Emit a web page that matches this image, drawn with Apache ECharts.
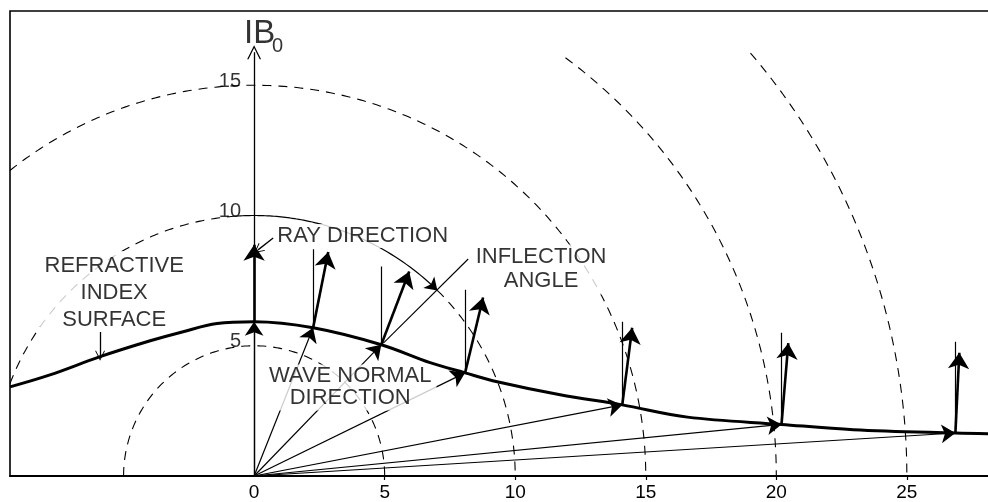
<!DOCTYPE html>
<html><head><meta charset="utf-8">
<script src="https://cdn.jsdelivr.net/npm/echarts@6/dist/echarts.min.js"></script>
<style>html,body{margin:0;padding:0;background:#fff}#c{width:988px;height:502px}</style>
</head><body><div id="c"></div>
<script>
// ---- data ----
const xTickLabels = [0, 5, 10, 15, 20, 25];
const xTickMarks = [5, 10, 15, 20, 25];
const yTickLabels = [5, 10, 15];

// refractive index surface
const surfaceX = [-9.35, -7.82, -5.9, -3.98, -2.72, -1.42, 0, 2.26, 4.87, 6.74, 8.08, 9.31, 11.72, 14.1, 16.6, 20.2, 22.95, 26.86, 28.3];
const surfaceY = [3.42, 3.88, 4.58, 5.19, 5.54, 5.85, 5.92, 5.69, 5.04, 4.35, 3.96, 3.62, 3.12, 2.73, 2.26, 1.98, 1.78, 1.65, 1.62];

// points on the surface reached by the wave normals
const pointX = [0, 2.26, 4.87, 8.08, 14.1, 20.2, 26.86];
const pointY = [5.92, 5.69, 5.04, 3.96, 2.73, 1.98, 1.65];
// ray direction arrow tips
const rayTipX = [0, 2.84, 5.94, 8.77, 14.48, 20.46, 27.01];
const rayTipY = [8.88, 8.6, 7.85, 6.85, 5.69, 5.1, 4.73];
// tops of the thin vertical (B0) reference lines
const refTopY = [null, 8.7, 8.04, 7.15, 5.92, 5.5, 5.15];

// dashed reference circles about the origin (radius, start angle, end angle in degrees)
const circleRadius = [5, 10, 10, 15, 20, 25];
const circleStart = [180, 159.2, 45.4, 128.6, 53.4, 40.5];
const circleEnd = [0, 94, 0, 0, 0, 0];
// solid leader arc on the radius-10 circle
const leaderRadius = 10, leaderStart = 94, leaderEnd = 45.4;

const yAxisTop = 16.27;

// annotations
const annText = ['RAY DIRECTION', 'INFLECTION\nANGLE', 'REFRACTIVE\nINDEX\nSURFACE', 'WAVE NORMAL\nDIRECTION'];
const annX = [4.16, 10.99, -5.36, 3.68];
const annY = [9.21, 7.93, 7.04, 3.40];
const annLineH = [22, 24, 27, 22];

// small leader arrows [x0,y0,x1,y1]
const leaderArrows = [[0.73, 9.14, 0.15, 8.68], [-5.9, 5.53, -5.9, 4.62]];
const inflectionLeader = [8.2, 8.33, 4.95, 5.1];

// ---- build ----
const deg = Math.PI / 180;
function arc(r, a0, a1) {
  const n = Math.max(2, Math.ceil(Math.abs(a1 - a0) / 0.5));
  const pts = [];
  for (let i = 0; i <= n; i++) {
    const a = (a0 + (a1 - a0) * i / n) * deg;
    pts.push([r * Math.cos(a), r * Math.sin(a)]);
  }
  return pts;
}
const FONT = 'Liberation Sans';
const black = '#000';
const series = [];

circleRadius.forEach((r, i) => {
  series.push({
    type: 'line', z: 2, silent: true, symbol: 'none',
    data: arc(r, circleStart[i], circleEnd[i]),
    lineStyle: { color: black, width: 1.1, type: [9, 7] }
  });
});
// solid leader arc + arrow
series.push({
  type: 'line', z: 2, silent: true, symbol: 'none',
  data: arc(leaderRadius, leaderStart, leaderEnd),
  lineStyle: { color: black, width: 1.2 }
});
const la = arc(leaderRadius, leaderEnd + 2, leaderEnd);
series.push({
  type: 'lines', coordinateSystem: 'cartesian2d', z: 2, silent: true,
  symbol: ['none', 'arrow'], symbolSize: [7, 12],
  lineStyle: { color: black, width: 1.2, opacity: 1 },
  data: [{ coords: [la[0], la[la.length - 1]] }]
});

// wave normal lines from origin
series.push({
  type: 'lines', coordinateSystem: 'cartesian2d', z: 2, silent: true,
  symbol: ['none', 'arrow'], symbolSize: [7, 14],
  lineStyle: { color: black, width: 1.2, opacity: 1 },
  data: pointX.map((x, i) => ({ coords: [[0, 0], [x, pointY[i]]] }))
});

// annotations (white backed text)
series.push({
  type: 'scatter', z: 3, silent: true, symbolSize: 0,
  data: annText.map((t, i) => ({
    name: t, value: [annX[i], annY[i]],
    label: { lineHeight: annLineH[i] }
  })),
  label: {
    show: true, position: 'inside', formatter: '{b}', align: 'center', verticalAlign: 'middle',
    fontFamily: FONT, fontSize: 22, color: '#000', backgroundColor: '#fff', padding: [1, 5]
  }
});

// y axis tick labels, drawn beside the vertical axis line
series.push({
  type: 'scatter', z: 6, silent: true, symbolSize: 0,
  data: yTickLabels.map(v => ({ name: String(v), value: [0, v] })),
  label: {
    show: true, position: 'inside', formatter: '{b}', align: 'right', verticalAlign: 'bottom',
    offset: [-13, 6], fontFamily: FONT, fontSize: 20, color: '#000'
  }
});

// y axis line with open arrow
series.push({
  type: 'lines', coordinateSystem: 'cartesian2d', z: 4, silent: true,
  symbol: ['none', 'path://M0,20 L10,0 L20,20 L18,20 L10,4 L2,20 Z'], symbolSize: [10, 14],
  lineStyle: { color: black, width: 1.3, opacity: 1 },
  data: [{ coords: [[0, 0], [0, yAxisTop]] }]
});
// small leader arrows
series.push({
  type: 'lines', coordinateSystem: 'cartesian2d', z: 4, silent: true,
  symbol: ['none', 'path://M0,20 L10,0 L20,20 L18,20 L10,4 L2,20 Z'], symbolSize: [9, 10],
  lineStyle: { color: black, width: 1.3, opacity: 1 },
  data: leaderArrows.map(a => ({ coords: [[a[0], a[1]], [a[2], a[3]]] }))
});
series.push({
  type: 'lines', coordinateSystem: 'cartesian2d', z: 4, silent: true, symbol: 'none',
  lineStyle: { color: black, width: 1.1, opacity: 1 },
  data: [{ coords: [[inflectionLeader[0], inflectionLeader[1]], [inflectionLeader[2], inflectionLeader[3]]] }]
});

// refractive index surface
series.push({
  type: 'line', z: 5, silent: true, symbol: 'none', smooth: 0.35,
  data: surfaceX.map((x, i) => [x, surfaceY[i]]),
  lineStyle: { color: black, width: 3 }
});
// thin vertical reference lines
series.push({
  type: 'lines', coordinateSystem: 'cartesian2d', z: 5, silent: true, symbol: 'none',
  lineStyle: { color: black, width: 1.2, opacity: 1 },
  data: pointX.map((x, i) => refTopY[i] == null ? null : ({ coords: [[x, pointY[i]], [x, refTopY[i]]] })).filter(Boolean)
});
// ray direction arrows
series.push({
  type: 'lines', coordinateSystem: 'cartesian2d', z: 5, silent: true,
  symbol: ['none', 'arrow'], symbolSize: [9, 16],
  lineStyle: { color: black, width: 2.6, opacity: 1 },
  data: pointX.map((x, i) => ({ coords: [[x, pointY[i]], [rayTipX[i], rayTipY[i]]] }))
});
// axis name IB0
series.push({
  type: 'scatter', z: 6, silent: true, symbolSize: 0,
  data: [
    { value: [0, yAxisTop], label: { formatter: 'IB', fontSize: 33, offset: [-10, -18] } },
    { value: [0, yAxisTop], label: { formatter: '0', fontSize: 20, offset: [18, -6] } }
  ],
  label: { show: true, position: 'inside', align: 'left', verticalAlign: 'middle', fontFamily: FONT, color: '#000' }
});

const chart = echarts.init(document.getElementById('c'), null, { renderer: 'canvas' });
chart.setOption({
  animation: false,
  backgroundColor: '#fff',
  grid: { left: 10, right: -5, top: 11, bottom: 26, outerBoundsMode: 'none', containLabel: false, show: true, borderColor: black, borderWidth: 1.6, backgroundColor: 'transparent' },
  xAxis: {
    type: 'value', min: -9.35, max: 28.3,
    axisLine: { onZero: false, lineStyle: { color: black, width: 2 } },
    splitLine: { show: false },
    axisTick: { show: true, customValues: xTickMarks, length: 4, lineStyle: { color: black, width: 1.2 } },
    axisLabel: { customValues: xTickLabels, fontFamily: FONT, fontSize: 19, color: '#000', margin: 7 }
  },
  yAxis: {
    type: 'value', min: 0, max: 17.85,
    axisLine: { show: false },
    splitLine: { show: false },
    axisTick: { show: false },
    axisLabel: { show: false }
  },
  series: series
});
</script></body></html>
